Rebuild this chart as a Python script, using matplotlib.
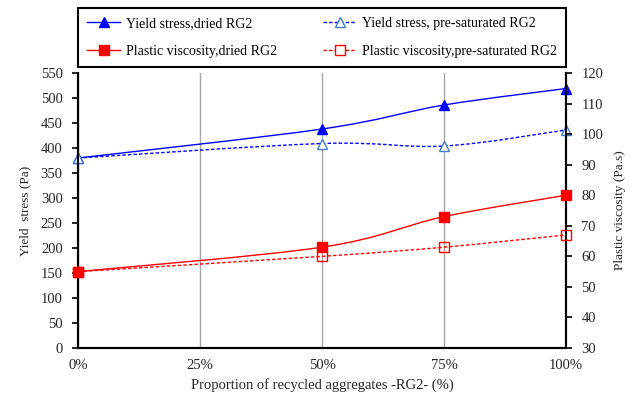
import matplotlib.pyplot as plt
import numpy as np
from matplotlib.path import Path
from matplotlib.patches import PathPatch
from matplotlib.lines import Line2D
from matplotlib.ticker import MultipleLocator, FuncFormatter

plt.rcParams['font.family'] = ['Liberation Serif', 'DejaVu Serif']

# Data: proportion of recycled aggregates (%)
proportion = [0, 50, 75, 100]
yield_dried = [380, 438, 486, 519]
yield_presat = [380, 409, 404, 436]
visc_dried = [55, 63, 73, 80]
visc_presat = [55, 60, 63, 67]

x_ticks = [0, 25, 50, 75, 100]


def smooth_line(ax, x, y, color, ls):
    # Catmull-Rom style bezier through the points (like a spreadsheet "smoothed line")
    pts = np.column_stack([x, y]).astype(float)
    n = len(pts)
    verts = [tuple(pts[0])]
    codes = [Path.MOVETO]
    for i in range(n - 1):
        p0 = pts[i - 1] if i > 0 else pts[i]
        p3 = pts[i + 2] if i + 2 < n else pts[i + 1]
        c1 = pts[i] + (pts[i + 1] - p0) / 6
        c2 = pts[i + 1] - (p3 - pts[i]) / 6
        verts += [tuple(c1), tuple(c2), tuple(pts[i + 1])]
        codes += [Path.CURVE4] * 3
    patch = PathPatch(Path(verts, codes), fill=False, edgecolor=color,
                      linewidth=1.0, linestyle=ls, zorder=3)
    ax.add_patch(patch)


fig = plt.figure(figsize=(6.32, 3.99), dpi=100)
ax = fig.add_axes([0.1234, 0.1278, 0.7722, 0.6892])
ax2 = ax.twinx()

dash = (0, (2.5, 1.5))
blue = '#0000ff'
blue_open = '#3f7fd0'
red = '#ff0000'
ms = 6.5

# Yield stress on the left axis
smooth_line(ax, proportion, yield_dried, blue, '-')
smooth_line(ax, proportion, yield_presat, blue, dash)
ax.plot(proportion, yield_dried, ls='none', marker='^', ms=ms, color=blue,
        clip_on=False, zorder=4)
ax.plot(proportion, yield_presat, ls='none', marker='^', ms=ms, mfc='white',
        mec=blue_open, mew=1.0, clip_on=False, zorder=4)

# Plastic viscosity on the right axis
smooth_line(ax2, proportion, visc_dried, red, '-')
smooth_line(ax2, proportion, visc_presat, red, dash)
ax2.plot(proportion, visc_dried, ls='none', marker='s', ms=ms, color=red,
         clip_on=False, zorder=4)
ax2.plot(proportion, visc_presat, ls='none', marker='s', ms=ms, mfc='none',
         mec=red, mew=1.0, clip_on=False, zorder=4)

ax.set_xlim(0, 100)
ax.set_ylim(0, 550)
ax2.set_ylim(30, 120)
ax.set_xticks(x_ticks)
ax.xaxis.set_major_formatter(FuncFormatter(lambda v, p: f'{v:.0f}%'))
ax.yaxis.set_major_locator(MultipleLocator(50))
ax2.yaxis.set_major_locator(MultipleLocator(10))

ax.grid(axis='x', color='#a6a6a6', linewidth=1.0)
ax.set_axisbelow(True)

for a in (ax, ax2):
    a.spines['top'].set_visible(False)
    for s in ('left', 'right', 'bottom'):
        a.spines[s].set_linewidth(1.5)
    a.tick_params(direction='out', length=4, width=1.2, labelsize=10.5,
                  colors='black', labelcolor='#262626', pad=7)
ax.tick_params(axis='x', length=0, pad=8)

ax.set_xlabel('Proportion of recycled aggregates -RG2- (%)', fontsize=10.5,
              color='#262626', labelpad=4)
ax.set_ylabel('Yield  stress (Pa)', fontsize=9.5, color='#262626', labelpad=7)
ax2.set_ylabel('Plastic viscosity (Pa.s)', fontsize=9.5, color='#262626',
               labelpad=8)

handles = [
    Line2D([], [], color=blue, lw=1.0, marker='^', ms=ms),
    Line2D([], [], color=red, lw=1.0, marker='s', ms=ms),
    Line2D([], [], color=blue, lw=1.0, ls=dash, marker='^', ms=ms,
           mfc='white', mec=blue_open),
    Line2D([], [], color=red, lw=1.0, ls=dash, marker='s', ms=ms,
           mfc='white', mec=red),
]
labels = ['Yield stress,dried RG2', 'Plastic viscosity,dried RG2',
          'Yield stress, pre-saturated RG2',
          'Plastic viscosity,pre-saturated RG2']
leg = fig.legend(handles, labels, ncol=2, loc='lower left',
                 bbox_to_anchor=(0.1234, 0.832, 0.7722, 0.148), mode='expand',
                 borderaxespad=0, fontsize=10, handlelength=2.4,
                 handletextpad=0.4, fancybox=False, edgecolor='black',
                 framealpha=1, labelspacing=1.1, borderpad=0.65,
                 columnspacing=1.0)
leg.get_frame().set_linewidth(1.5)

fig.savefig('out.png', dpi=100)
